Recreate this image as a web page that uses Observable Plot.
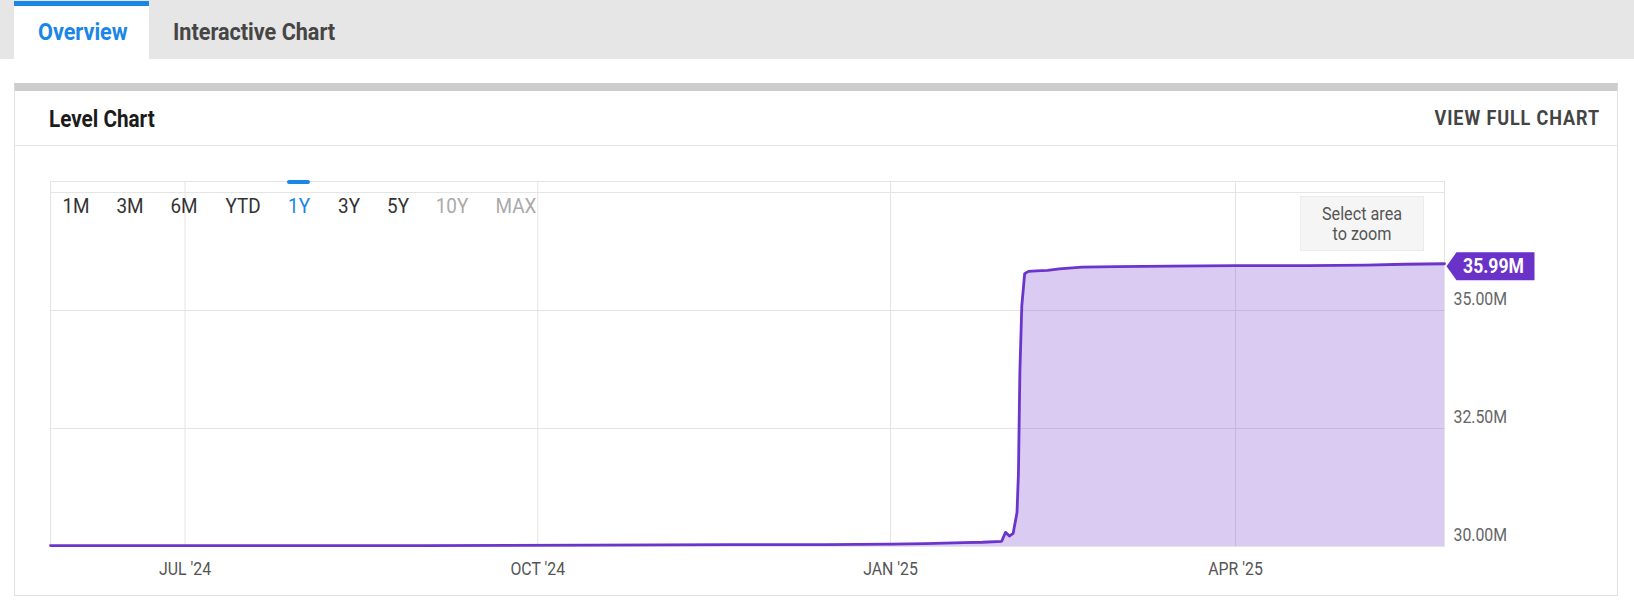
<!DOCTYPE html>
<html>
<head>
<meta charset="utf-8">
<script src="https://cdn.jsdelivr.net/npm/d3@7"></script>
<script src="https://cdn.jsdelivr.net/npm/@observablehq/plot@0.6"></script>
<style>
  html, body { margin: 0; padding: 0; }
  body { width: 1634px; height: 600px; position: relative; overflow: hidden; background: #fff; font-family: Roboto, "Open Sans", sans-serif; }
  .abs { position: absolute; }
  .tabbar { left: 0; top: 0; width: 1634px; height: 59px; background: #e6e6e6; }
  .tab-active { left: 14px; top: 1px; width: 135px; height: 58px; background: #fff; border-top: 5px solid #1a86e6; box-sizing: border-box; }
  .card { left: 14px; top: 83px; width: 1604px; height: 513px; box-sizing: border-box; border: 1px solid #e2e2e2; border-top: 8px solid #cdcdcd; }
  .sep { left: 15px; top: 145px; width: 1602px; height: 1px; background: #e6e6e6; }
  .lbl { position: absolute; white-space: nowrap; line-height: 1; }
  .zoombox { left: 1300px; top: 196px; width: 124px; height: 55px; background: #f5f5f5; border: 1px solid #ebebeb; box-sizing: border-box; }
  .indicator { left: 287px; top: 180px; width: 23px; height: 4px; background: #1a86e6; border-radius: 2px; }
  #chart { position: absolute; left: 0; top: 150px; }
</style>
</head>
<body>
<div class="abs tabbar"></div>
<div class="abs tab-active"></div>
<div class="abs card"></div>
<div class="abs sep"></div>
<div id="chart"></div>
<div class="abs zoombox"></div>
<div class="abs indicator"></div>
<script>
// ---------------- data ----------------
const dates = [
  "2024-05-26T22:00", "2024-07-15", "2024-09-01", "2024-10-15", "2024-11-20", "2024-12-15",
  "2025-01-01", "2025-01-10", "2025-01-20", "2025-01-25", "2025-01-30", "2025-01-31",
  "2025-02-01", "2025-02-02", "2025-02-03T00:00", "2025-02-03T09:00", "2025-02-03T18:00",
  "2025-02-04T06:00", "2025-02-05", "2025-02-06", "2025-02-08", "2025-02-11", "2025-02-14",
  "2025-02-20", "2025-03-01", "2025-03-15", "2025-04-01", "2025-04-20", "2025-05-05",
  "2025-05-15", "2025-05-25T12:00"
];
const values = [ // millions
  30.02, 30.02, 30.02, 30.03, 30.04, 30.04,
  30.05, 30.06, 30.08, 30.09, 30.11, 30.30,
  30.22, 30.28, 30.72, 31.55, 33.70,
  35.10, 35.78, 35.83, 35.84, 35.85, 35.88,
  35.92, 35.93, 35.94, 35.95, 35.95, 35.96,
  35.98, 35.99
];
const lastLabel = "35.99M";
const xDomain = ["2024-05-26T22:00:00Z", "2025-05-25T12:00:00Z"];
const xTickDates = ["2024-07-01", "2024-10-01", "2025-01-01", "2025-04-01"];
const monthNames = ["JAN","FEB","MAR","APR","MAY","JUN","JUL","AUG","SEP","OCT","NOV","DEC"];
const yTickValues = [30, 32.5, 35];          // labelled ticks (millions)
const yGridValues = [30, 32.5, 35, 37.5];    // grid lines (millions)
const yDomain = [30, 37.733];                // millions
const rangeButtons = ["1M", "3M", "6M", "YTD", "1Y", "3Y", "5Y", "10Y", "MAX"];
const rangeState   = ["n", "n", "n", "n", "active", "n", "n", "disabled", "disabled"];
const tabs = ["Overview", "Interactive Chart"];
const cardTitle = "Level Chart";
const cardAction = "VIEW FULL CHART";
const zoomHint = ["Select area", "to zoom"];

// ---------------- html text helpers ----------------
function label(text, x, y, o = {}) {
  const el = document.createElement("div");
  el.className = "lbl";
  el.textContent = text;
  el.style.left = x + "px";
  el.style.top = y + "px";
  el.style.fontSize = (o.size || 16) + "px";
  el.style.fontWeight = o.weight || 400;
  el.style.color = o.color || "#333";
  if (o.spacing) el.style.letterSpacing = o.spacing + "px";
  const sx = o.sx || 0.9;
  const a = o.anchor || "start";
  if (a === "start") { el.style.transformOrigin = "left center"; el.style.transform = `translate(0,-50%) scaleX(${sx})`; }
  else if (a === "middle") { el.style.transformOrigin = "center center"; el.style.transform = `translate(-50%,-50%) scaleX(${sx})`; }
  else { el.style.transformOrigin = "right center"; el.style.transform = `translate(-100%,-50%) scaleX(${sx})`; }
  document.body.appendChild(el);
  return el;
}

label(tabs[0], 37.5, 32, {size: 24, weight: 700, color: "#1a86e6"});
label(tabs[1], 173, 32, {size: 24, weight: 700, color: "#454545"});
label(cardTitle, 49, 119, {size: 23, weight: 700, color: "#1b1b1b"});
label(cardAction, 1600, 118, {size: 20, weight: 700, color: "#444", spacing: 1, anchor: "end"});

const btnCenters = [75.5, 130, 184, 242.5, 298.5, 348.5, 398, 452, 515.5];
rangeButtons.forEach((b, i) => {
  const st = rangeState[i];
  label(b, btnCenters[i], 206, {size: 21, weight: 400, anchor: "middle",
    color: st === "active" ? "#1a86e6" : st === "disabled" ? "#aaaaaa" : "#333"});
});
label(zoomHint[0], 1362, 214, {size: 18, color: "#555", anchor: "middle"});
label(zoomHint[1], 1362, 234, {size: 18, color: "#555", anchor: "middle"});

// ---------------- chart ----------------
const data = dates.map((d, i) => ({date: new Date(d.length > 10 ? d + "Z" : d), value: values[i] * 1e6}));
const last = data[data.length - 1];
const xTicks = xTickDates.map(d => new Date(d));
const fmtX = d => `${monthNames[d.getUTCMonth()]} '${String(d.getUTCFullYear()).slice(2)}`;
const fmtY = d => (d / 1e6).toFixed(2) + "M";

const tagSymbol = {
  draw(ctx) {
    ctx.moveTo(0, 0);
    ctx.lineTo(10, -14);
    ctx.lineTo(88, -14);
    ctx.lineTo(88, 14);
    ctx.lineTo(10, 14);
    ctx.closePath();
  }
};

const purple = "#6b35cc";
const chart = Plot.plot({
  width: 1634,
  height: 440,
  marginLeft: 50,
  marginRight: 190,
  marginTop: 31,
  marginBottom: 44,
  style: {fontFamily: "Roboto, sans-serif", background: "transparent", overflow: "visible"},
  x: {type: "utc", domain: xDomain.map(d => new Date(d))},
  y: {domain: yDomain.map(v => v * 1e6)},
  marks: [
    Plot.frame({stroke: "#e4e4e4"}),
    Plot.gridX(xTicks, {stroke: "#e4e4e4", strokeOpacity: 1}),
    Plot.gridY(yGridValues.map(v => v * 1e6), {stroke: "#e4e4e4", strokeOpacity: 1}),
    Plot.areaY(data, {x: "date", y1: yDomain[0] * 1e6, y2: "value", fill: purple, fillOpacity: 0.26}),
    Plot.lineY(data, {x: "date", y: "value", stroke: purple, strokeWidth: 2.8, strokeLinejoin: "round"}),
    Plot.axisX(xTicks, {tickSize: 0, tickPadding: 16, tickFormat: fmtX, color: "#555", fontSize: 18, label: null}),
    Plot.axisY(yTickValues.map(v => v * 1e6), {anchor: "right", tickSize: 0, tickPadding: 9, dy: -11, tickFormat: fmtY, color: "#666", fontSize: 18, label: null}),
    Plot.dot([last], {x: "date", y: "value", symbol: tagSymbol, r: 1, fill: "#6a32c8", dx: 2, dy: 2.5}),
    Plot.text([last], {x: "date", y: "value", text: () => lastLabel, dx: 49, dy: 2.5, fill: "#fff", fontWeight: 700, fontSize: 20})
  ]
});
document.getElementById("chart").appendChild(chart);

// condense svg text to mimic the narrow face of the reference
chart.querySelectorAll("text").forEach(t => {
  const L = t.getComputedTextLength();
  if (L > 0) {
    t.setAttribute("textLength", (L * 0.88).toFixed(1));
    t.setAttribute("lengthAdjust", "spacingAndGlyphs");
  }
});
</script>
</body>
</html>
